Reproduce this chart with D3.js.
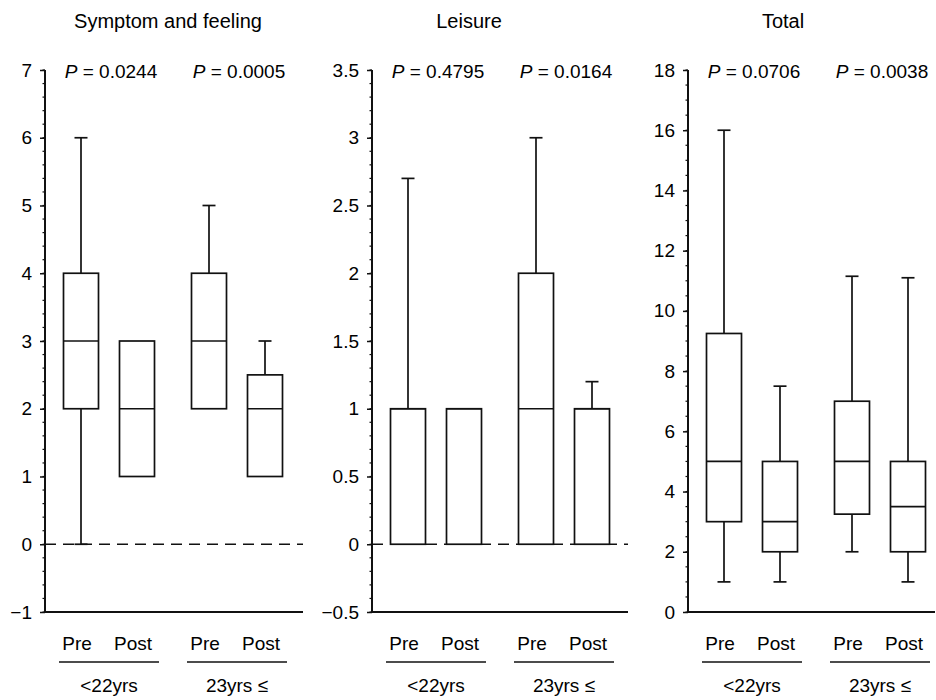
<!DOCTYPE html>
<html><head><meta charset="utf-8">
<script src="https://cdn.jsdelivr.net/npm/d3@7"></script>
<style>body{margin:0;background:#fff}svg{display:block}text{font-family:"Liberation Sans",Arial,Helvetica,sans-serif;fill:#000}</style>
</head><body><svg id="c" width="936" height="700"></svg>
<script>
// ---- data ----
const groups = ["<22yrs", "23yrs \u2264"];
const phases = ["Pre", "Post"];
const panelTitles = ["Symptom and feeling", "Leisure", "Total"];
const pValues = [["0.0244", "0.0005"], ["0.4795", "0.0164"], ["0.0706", "0.0038"]];
// order: Pre <22, Post <22, Pre 23, Post 23
const symMin = [0, 1, 2, 1], symQ1 = [2, 1, 2, 1], symMed = [3, 2, 3, 2], symQ3 = [4, 3, 4, 2.5], symMax = [6, 3, 5, 3];
const leiMin = [0, 0, 0, 0], leiQ1 = [0, 0, 0, 0], leiMed = [1, 1, 1, 1], leiQ3 = [1, 1, 2, 1], leiMax = [2.7, 1, 3, 1.2];
const totMin = [1, 1, 2, 1], totQ1 = [3, 2, 3.25, 2], totMed = [5, 3, 5, 3.5], totQ3 = [9.25, 5, 7, 5], totMax = [16, 7.5, 11.15, 11.1];
const symTicks = [-1, 0, 1, 2, 3, 4, 5, 6, 7];
const leiTicks = [-0.5, 0, 0.5, 1, 1.5, 2, 2.5, 3, 3.5];
const totTicks = [0, 2, 4, 6, 8, 10, 12, 14, 16, 18];

const panels = [
  {title: panelTitles[0], p: pValues[0], min: symMin, q1: symQ1, med: symMed, q3: symQ3, max: symMax,
   domain: [-1, 7], ticks: symTicks, minor: 0.2, dashed: true, axisX: 45, right: 303, titleX: 168},
  {title: panelTitles[1], p: pValues[1], min: leiMin, q1: leiQ1, med: leiMed, q3: leiQ3, max: leiMax,
   domain: [-0.5, 3.5], ticks: leiTicks, minor: 0.1, dashed: true, axisX: 372, right: 628, titleX: 469},
  {title: panelTitles[2], p: pValues[2], min: totMin, q1: totQ1, med: totMed, q3: totQ3, max: totMax,
   domain: [0, 18], ticks: totTicks, minor: 0.5, dashed: false, axisX: 688, right: 935, titleX: 783}
];

const svg = d3.select("#c");
const yTop = 70, yBot = 612;
const boxW = 35, capW = 13;
const fmt = v => (v < 0 ? "\u2212" : "") + Math.abs(v);

panels.forEach(P => {
  const g = svg.append("g");
  const y = d3.scaleLinear().domain(P.domain).range([yBot, yTop]);
  const xg = d3.scaleBand().domain(groups).range([P.axisX, P.axisX + 256]);
  const xi = d3.scaleBand().domain(phases).range([8, 120]);
  const items = [];
  groups.forEach((gr, gi) => phases.forEach((ph, pi) => {
    const k = gi * 2 + pi;
    items.push({gr, ph, cx: xg(gr) + xi(ph) + xi.bandwidth() / 2,
      min: P.min[k], q1: P.q1[k], med: P.med[k], q3: P.q3[k], max: P.max[k]});
  }));

  // title
  g.append("text").attr("x", P.titleX).attr("y", 28).attr("text-anchor", "middle")
    .style("font-size", "20px").text(P.title);

  // dashed zero line
  if (P.dashed) {
    g.append("line").attr("x1", P.axisX).attr("x2", P.right)
      .attr("y1", y(0)).attr("y2", y(0))
      .attr("stroke", "#111").attr("stroke-width", 1.6).attr("stroke-dasharray", "11,7");
  }

  // minor ticks
  const minorVals = d3.range(P.domain[0], P.domain[1] + 1e-9, P.minor);
  g.selectAll(".mn").data(minorVals).join("line")
    .attr("x1", P.axisX - 2.5).attr("x2", P.axisX).attr("y1", d => y(d)).attr("y2", d => y(d))
    .attr("stroke", "#111").attr("stroke-width", 1.2);

  // y axis
  const ax = g.append("g").attr("transform", `translate(${P.axisX},0)`)
    .call(d3.axisLeft(y).tickValues(P.ticks).tickFormat(fmt).tickSize(5).tickPadding(8));
  ax.select(".domain").attr("stroke", "#111").attr("stroke-width", 2).attr("d", `M0,${yTop}V${yBot}`);
  ax.selectAll(".tick line").attr("stroke", "#111").attr("stroke-width", 1.5);
  ax.selectAll(".tick text").style("font-size", "19px").attr("fill", "#000").attr("font-family", "Liberation Sans, Arial, sans-serif");

  // x axis line
  g.append("line").attr("x1", P.axisX).attr("x2", P.right).attr("y1", yBot).attr("y2", yBot)
    .attr("stroke", "#111").attr("stroke-width", 2);

  // boxes
  const bx = g.selectAll(".bx").data(items).join("g");
  bx.filter(d => d.max > d.q3).append("line")
    .attr("x1", d => d.cx).attr("x2", d => d.cx).attr("y1", d => y(d.q3)).attr("y2", d => y(d.max))
    .attr("stroke", "#111").attr("stroke-width", 1.7);
  bx.filter(d => d.max > d.q3).append("line")
    .attr("x1", d => d.cx - capW / 2).attr("x2", d => d.cx + capW / 2).attr("y1", d => y(d.max)).attr("y2", d => y(d.max))
    .attr("stroke", "#111").attr("stroke-width", 1.7);
  bx.filter(d => d.min < d.q1).append("line")
    .attr("x1", d => d.cx).attr("x2", d => d.cx).attr("y1", d => y(d.q1)).attr("y2", d => y(d.min))
    .attr("stroke", "#111").attr("stroke-width", 1.7);
  bx.filter(d => d.min < d.q1).append("line")
    .attr("x1", d => d.cx - capW / 2).attr("x2", d => d.cx + capW / 2).attr("y1", d => y(d.min)).attr("y2", d => y(d.min))
    .attr("stroke", "#111").attr("stroke-width", 1.7);
  bx.append("rect")
    .attr("x", d => d.cx - boxW / 2).attr("width", boxW)
    .attr("y", d => y(d.q3)).attr("height", d => y(d.q1) - y(d.q3))
    .attr("fill", "#fff").attr("stroke", "#111").attr("stroke-width", 1.7);
  bx.append("line")
    .attr("x1", d => d.cx - boxW / 2).attr("x2", d => d.cx + boxW / 2).attr("y1", d => y(d.med)).attr("y2", d => y(d.med))
    .attr("stroke", "#111").attr("stroke-width", 1.7);

  // phase labels
  g.selectAll(".ph").data(items).join("text")
    .attr("x", d => d.cx - 4).attr("y", 650).attr("text-anchor", "middle")
    .style("font-size", "19px").text(d => d.ph);

  // group underline + labels
  groups.forEach(gr => {
    const c = xg(gr) + xg.bandwidth() / 2;
    g.append("line").attr("x1", c - 50).attr("x2", c + 50).attr("y1", 662).attr("y2", 662)
      .attr("stroke", "#111").attr("stroke-width", 1.5);
    g.append("text").attr("x", c).attr("y", 692).attr("text-anchor", "middle")
      .style("font-size", "19px").text(gr);
  });

  // P values
  groups.forEach((gr, gi) => {
    const c = xg(gr) + xg.bandwidth() / 2;
    const t = g.append("text").attr("x", c + 2).attr("y", 78).attr("text-anchor", "middle").style("font-size", "19px");
    t.append("tspan").style("font-style", "italic").text("P");
    t.append("tspan").text(" = " + P.p[gi]);
  });
});
</script></body></html>
